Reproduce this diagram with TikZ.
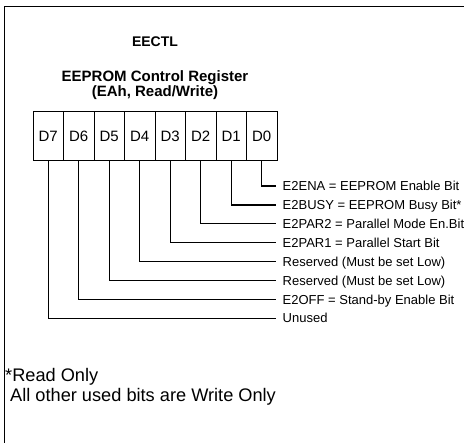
\documentclass[tikz,border=0pt]{standalone}
\usepackage{fontspec}
\setmainfont{Liberation Sans}
\begin{document}
\begin{tikzpicture}[x=1pt,y=-1pt,
  frame/.style={line width=1pt},
  cell/.style={draw,line width=1pt,minimum width=30.5pt,minimum height=49pt,inner sep=0pt,
    font=\fontsize{15}{15}\selectfont},
  lead/.style={line width=1.3pt},
  bitlabel/.style={anchor=west,inner sep=0pt,text height=9.3pt,text depth=0pt,
    font=\fontsize{13}{13}\selectfont},
  titlefont/.style={anchor=base,inner sep=0pt,font=\bfseries\fontsize{15}{15}\selectfont},
  note/.style={anchor=west,inner sep=0pt,text height=13pt,text depth=0pt,
    font=\fontsize{18.2}{18.2}\selectfont}]
\useasboundingbox (0,0) rectangle (464,443);
\draw[frame] (4,443) -- (4,7) -- (464,7);
\node[anchor=base,inner sep=0pt,font=\bfseries\fontsize{14}{14}\selectfont] (ttl) at (155,47) {EECTL};
\node[titlefont] (sub1) at (155,82) {EEPROM Control Register};
\node[titlefont] (sub2) at (155,96.8) {(EAh, Read/Write)};
\foreach \b in {0,...,7}{
  \pgfmathsetmacro{\cx}{33+30.5*(7-\b)+15.25}
  \pgfmathsetmacro{\ly}{186+18.9*\b}
  \node[cell] (c\b) at (\cx,136.5) {D\b};
  \coordinate (e\b) at (276,\ly);
}
\foreach \b/\t in {0/{E2ENA = EEPROM Enable Bit},1/{E2BUSY = EEPROM Busy Bit*},
  2/{E2PAR2 = Parallel Mode En.Bit},3/{E2PAR1 = Parallel Start Bit},
  4/{Reserved (Must be set Low)},5/{Reserved (Must be set Low)},
  6/{E2OFF = Stand-by Enable Bit},7/{Unused}}{
  \draw[lead] (c\b.south) |- (e\b);
  \node[bitlabel] (l\b) at ([xshift=6.5pt]e\b) {\t};
}
\node[note] (n1) at (5,375) {*Read Only};
\node[note] (n2) at (10,395) {All other used bits are Write Only};
\end{tikzpicture}
\end{document}
